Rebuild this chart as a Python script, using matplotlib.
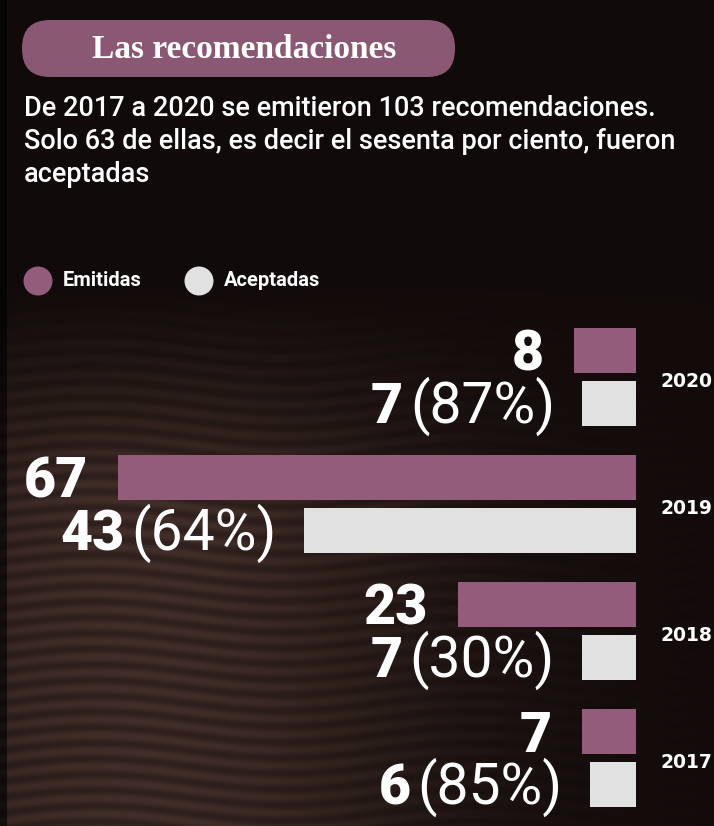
import numpy as np
import matplotlib
matplotlib.use("Agg")
import matplotlib.pyplot as plt
from matplotlib.patches import FancyBboxPatch, Circle

# datos
years = ["2020", "2019", "2018", "2017"]
emitidas = [8, 67, 23, 7]
aceptadas = [7, 43, 7, 6]
porcentajes = ["87%", "64%", "30%", "85%"]

titulo = "Las recomendaciones"
texto = ["De 2017 a 2020 se emitieron 103 recomendaciones.",
         "Solo 63 de ellas, es decir el sesenta por ciento, fueron",
         "aceptadas"]
leyenda = ["Emitidas", "Aceptadas"]

MAUVE = "#935c7b"
PILL = "#8b5874"
LIGHT = "#e1e1e1"

SANS = ["Roboto", "DejaVu Sans"]
PX = 0.72  # points per pixel at dpi 100

fig = plt.figure(figsize=(7.14, 8.26), dpi=100)
fig.patch.set_facecolor("#140c0b")

# full-figure axes, 1 unit = 1 pixel
bg = fig.add_axes([0, 0, 1, 1])
bg.set_xlim(0, 714)
bg.set_ylim(826, 0)
bg.axis("off")

# dark wood tone, lighter at lower left
yy, xx = np.mgrid[0:826, 0:714]
glow = np.exp(-((xx - 140) / 300.0) ** 2) * np.clip((yy - 290) / 200.0, 0, 1)
grain = 0.8 + 0.2 * np.sin(yy / 2.5 + 3 * np.sin(xx / 60.0))
base = np.array([0.07, 0.043, 0.04])
tint = np.array([0.19, 0.14, 0.12])
img = base + (glow * grain)[..., None] * tint
img[:, :7] *= 0.4
bg.imshow(np.clip(img, 0, 1), extent=(0, 714, 826, 0), aspect="auto", zorder=0)

# title pill
bg.add_patch(FancyBboxPatch((22, 20), 433, 57, boxstyle="round,pad=0,rounding_size=28",
                            fc=PILL, ec="none", zorder=2))
bg.text(244, 50, titulo, ha="center", va="center", color="white", fontsize=24,
        fontweight="bold", family=["Liberation Serif", "DejaVu Serif"], zorder=3)

# intro text
for k, line in enumerate(texto):
    bg.text(24, 116 + 33 * k, line, ha="left", va="baseline", color="white",
            fontsize=19.5, fontweight="medium", family=SANS, zorder=3)

# legend
for k, (lab, col) in enumerate(zip(leyenda, [MAUVE, LIGHT])):
    cx = 38 + 161 * k
    bg.add_patch(Circle((cx, 281), 14.5, fc=col, ec="none", zorder=3))
    bg.text(cx + 25, 281, lab, ha="left", va="center", color="white", fontsize=14.5,
            fontweight="bold", family=SANS, zorder=3)

# bars: value axis inverted so bars grow to the left from x = 636 px
scale = 7.73
ax = fig.add_axes([0, 0, 636 / 714, 513 / 826])
ax.patch.set_alpha(0)
ax.set_xlim(636 / scale, 0)
ax.set_ylim(-0.504 + 513 / 127, -0.504)
ax.axis("off")

pos = np.arange(len(years))
off, h = 0.205, 0.354
ax.barh(pos - off, emitidas, height=h, color=MAUVE, zorder=2)
ax.barh(pos + off, aceptadas, height=h, color=LIGHT, zorder=2)

half_cap = 20 * PX
for i in range(len(years)):
    ax.annotate(str(emitidas[i]), xy=(emitidas[i], pos[i] - off), xytext=(-30 * PX, -half_cap),
                textcoords="offset points", ha="right", va="baseline", color="white",
                fontsize=40, fontweight="black", family=SANS)
    reg = ax.annotate(f"({porcentajes[i]})", xy=(aceptadas[i], pos[i] + off),
                      xytext=(-27 * PX, -half_cap), textcoords="offset points", ha="right",
                      va="baseline", color="white", fontsize=41, fontweight="normal",
                      family=SANS)
    ax.annotate(str(aceptadas[i]), xy=(0, pos[i] + off), xycoords=(reg, "data"),
                xytext=(-5, -half_cap), textcoords="offset points", ha="right",
                va="baseline", color="white", fontsize=40, fontweight="black",
                family=SANS)
    ax.annotate(years[i], xy=(0, pos[i]), xytext=(24 * PX, -10 * PX),
                textcoords="offset points", ha="left", va="baseline", color="white",
                fontsize=13.5, fontweight="bold", family="DejaVu Sans",
                annotation_clip=False)

fig.savefig("out.png", dpi=100, facecolor=fig.get_facecolor())
